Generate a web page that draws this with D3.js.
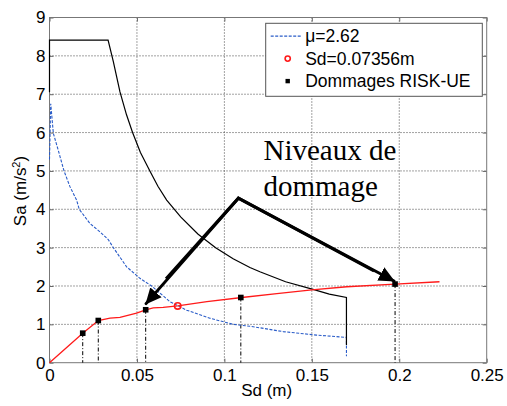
<!DOCTYPE html>
<html>
<head>
<meta charset="utf-8">
<script src="https://cdn.jsdelivr.net/npm/d3@7"></script>
<style>
  body { margin: 0; background: #fff; }
  text { font-family: "Liberation Sans", Arial, sans-serif; }
</style>
</head>
<body>
<div id="chart"></div>
<script>
// capacity spectrum (black), demand mu=2.62 (blue), capacity curve (red)
var spectrumSd = [0, 0, 0.0335, 0.0365, 0.0403, 0.0440, 0.0475, 0.0520, 0.0574, 0.0620, 0.067, 0.075, 0.085, 0.095, 0.105, 0.1146, 0.1203, 0.135, 0.1507, 0.160, 0.1698, 0.1698];
var spectrumSa = [7.05, 8.41, 8.41, 7.85, 7.06, 6.47, 6.0, 5.48, 5.0, 4.60, 4.24, 3.80, 3.35, 3.00, 2.71, 2.48, 2.37, 2.11, 1.91, 1.79, 1.70, 0.46];

var demandSd = [0, 0.0007, 0.0022, 0.005, 0.0083, 0.0117, 0.0155, 0.017, 0.0231, 0.0289, 0.0336, 0.0365, 0.0441, 0.0517, 0.0584, 0.0689, 0.0784, 0.0917, 0.105, 0.1146, 0.1203, 0.1336, 0.1527, 0.1698, 0.1698];
var demandSa = [5.3, 6.75, 5.98, 5.54, 5.0, 4.59, 4.24, 4.0, 3.63, 3.41, 3.21, 3.0, 2.5, 2.2, 2.0, 1.59, 1.37, 1.16, 1.0, 0.95, 0.91, 0.81, 0.72, 0.66, 0.17];

var capacitySd = [0, 0.019, 0.0279, 0.0346, 0.0403, 0.0498, 0.055, 0.0593, 0.065, 0.0733, 0.09, 0.11, 0.13, 0.15, 0.17, 0.1976, 0.223];
var capacitySa = [0, 0.77, 1.10, 1.16, 1.18, 1.29, 1.38, 1.43, 1.44, 1.48, 1.59, 1.70, 1.80, 1.90, 1.98, 2.05, 2.11];

// performance point
var perfSd = [0.0733];
var perfSa = [1.48];

// RISK-UE damage thresholds
var damageSd = [0.019, 0.0279, 0.055, 0.1094, 0.1976];
var damageSa = [0.77, 1.10, 1.38, 1.70, 2.05];

var xTicks = [0, 0.05, 0.1, 0.15, 0.2, 0.25];
var xTickLabels = ["0", "0.05", "0.1", "0.15", "0.2", "0.25"];
var yTicks = [0, 1, 2, 3, 4, 5, 6, 7, 8, 9];
var yTickLabels = ["0", "1", "2", "3", "4", "5", "6", "7", "8", "9"];

var legendLabels = ["\u03bc=2.62", "Sd=0.07356m", "Dommages RISK-UE"];
var noteLines = ["Niveaux de", "dommage"];
// arrow apex and the two damage levels it points to (Sd, Sa)
var arrowFrom = [0.108, 4.29];
var arrowTo = [[0.0552, 1.54], [0.197, 2.13]];

var svgWidth = 507, svgHeight = 406;
var margin = { top: 17.5, right: 20.3, bottom: 43.3, left: 49.5 };
var width = svgWidth - margin.left - margin.right;
var height = svgHeight - margin.top - margin.bottom;

var svg = d3.select('#chart').append('svg')
    .attr('width', svgWidth).attr('height', svgHeight)
    .style('display', 'block');

var defs = svg.append('defs');
defs.append('marker')
    .attr('id', 'head')
    .attr('markerUnits', 'userSpaceOnUse')
    .attr('viewBox', '0 -8 16 16')
    .attr('refX', 15).attr('refY', 0)
    .attr('markerWidth', 16).attr('markerHeight', 16)
    .attr('orient', 'auto')
    .append('path')
    .attr('d', 'M0,-7.5L16,0L0,7.5Z')
    .attr('fill', '#000');

var g = svg.append('g')
    .attr('transform', `translate(${margin.left}, ${margin.top})`);

var x = d3.scaleLinear().domain([0, 0.25]).range([0, width]);
var y = d3.scaleLinear().domain([0, 9]).range([height, 0]);

// grid (dotted)
g.selectAll('.gx').data(xTicks.slice(1, -1)).enter().append('line')
    .attr('x1', d => x(d)).attr('x2', d => x(d))
    .attr('y1', 0).attr('y2', height)
    .style('stroke', '#444').style('stroke-width', 1)
    .style('stroke-dasharray', '1,2');
g.selectAll('.gy').data(yTicks.slice(1, -1)).enter().append('line')
    .attr('x1', 0).attr('x2', width)
    .attr('y1', d => y(d)).attr('y2', d => y(d))
    .style('stroke', '#444').style('stroke-width', 1)
    .style('stroke-dasharray', '1,2');

// axes
var xAxis = d3.axisBottom(x).tickValues(xTicks)
    .tickFormat((d, i) => xTickLabels[i]).tickSizeInner(-4).tickSizeOuter(0).tickPadding(6);
var yAxis = d3.axisLeft(y).tickValues(yTicks)
    .tickFormat((d, i) => yTickLabels[i]).tickSizeInner(-4).tickSizeOuter(0).tickPadding(4);
var gx = g.append('g').attr('transform', `translate(0, ${height})`).call(xAxis);
var gy = g.append('g').call(yAxis);
[gx, gy].forEach(a => {
    a.select('.domain').remove();
    a.selectAll('line').style('stroke', '#666');
    a.selectAll('text').style('font-size', '17px').style('fill', '#000');
});
// inward ticks on top and right
g.append('g').call(d3.axisTop(x).tickValues(xTicks).tickFormat('').tickSizeInner(-4).tickSizeOuter(0))
    .call(a => a.select('.domain').remove())
    .selectAll('line').style('stroke', '#666');
g.append('g').attr('transform', `translate(${width}, 0)`)
    .call(d3.axisRight(y).tickValues(yTicks).tickFormat('').tickSizeInner(-4).tickSizeOuter(0))
    .call(a => a.select('.domain').remove())
    .selectAll('line').style('stroke', '#666');

// frame
g.append('rect')
    .attr('width', width).attr('height', height)
    .style('fill', 'none').style('stroke', '#777').style('stroke-width', 1);

// damage drop lines
g.selectAll('.drop').data(damageSd).enter().append('line')
    .attr('x1', d => x(d)).attr('x2', d => x(d))
    .attr('y1', (d, i) => y(damageSa[i])).attr('y2', height)
    .style('stroke', '#000').style('stroke-width', 1)
    .style('stroke-dasharray', '4,2,1,2');

var line = d3.line().x(d => x(d[0])).y(d => y(d[1]));

g.append('path')
    .datum(d3.zip(demandSd, demandSa))
    .attr('d', line)
    .style('fill', 'none').style('stroke', '#2a5cc8')
    .style('stroke-width', 1.1).style('stroke-dasharray', '3,1.5');

g.append('path')
    .datum(d3.zip(spectrumSd, spectrumSa))
    .attr('d', line)
    .style('fill', 'none').style('stroke', '#000').style('stroke-width', 1.2);

g.append('path')
    .datum(d3.zip(capacitySd, capacitySa))
    .attr('d', line)
    .style('fill', 'none').style('stroke', '#ff1a1a').style('stroke-width', 1.3);

g.selectAll('.perf').data(perfSd).enter().append('circle')
    .attr('cx', d => x(d)).attr('cy', (d, i) => y(perfSa[i]))
    .attr('r', 3.2)
    .style('fill', 'none').style('stroke', '#ff1a1a').style('stroke-width', 1.6);

g.selectAll('.dmg').data(damageSd).enter().append('rect')
    .attr('x', d => x(d) - 2.8).attr('y', (d, i) => y(damageSa[i]) - 2.8)
    .attr('width', 5.6).attr('height', 5.6)
    .style('fill', '#000');

// annotation arrows
arrowTo.forEach(t => {
    g.append('line')
        .attr('x1', x(arrowFrom[0])).attr('y1', y(arrowFrom[1]))
        .attr('x2', x(t[0])).attr('y2', y(t[1]))
        .attr('marker-end', 'url(#head)')
        .style('stroke', '#000').style('stroke-width', 3)
        .style('stroke-linecap', 'round');
});
g.append('path')
    .attr('d', `M${x(arrowTo[0][0]) + 20},${y(arrowTo[0][1]) - 25}L${x(arrowFrom[0])},${y(arrowFrom[1])}L${x(arrowTo[1][0]) - 20},${y(arrowTo[1][1]) - 10}`)
    .style('fill', 'none').style('stroke', '#000').style('stroke-width', 3)
    .style('stroke-linejoin', 'miter');

var note = svg.append('text')
    .attr('x', 263.5).attr('y', 160)
    .style('font-family', '"Liberation Serif", "Times New Roman", serif')
    .style('font-size', '29px').style('fill', '#000');
noteLines.forEach((t, i) => {
    note.append('tspan').attr('x', 263.5).attr('y', 160 + i * 36).text(t);
});

// legend
var legend = svg.append('g').attr('transform', 'translate(265.7, 23.3)');
legend.append('rect')
    .attr('width', 216.6).attr('height', 73)
    .style('fill', '#fff').style('stroke', '#555').style('stroke-width', 1);
var rows = legend.selectAll('.row').data(legendLabels).enter().append('g')
    .attr('transform', (d, i) => `translate(0, ${12.8 + i * 22.5})`);
rows.append('text')
    .attr('x', 39.5).attr('y', 0).attr('dy', '0.36em')
    .style('font-size', '17.5px').style('fill', '#000')
    .text(d => d);
legend.append('line')
    .attr('x1', 5).attr('x2', 36).attr('y1', 12.8).attr('y2', 12.8)
    .style('stroke', '#2a5cc8').style('stroke-width', 1.1).style('stroke-dasharray', '3,1.5');
legend.append('circle')
    .attr('cx', 22).attr('cy', 12.8 + 22.5).attr('r', 2.6)
    .style('fill', 'none').style('stroke', '#ff1a1a').style('stroke-width', 1.6);
legend.append('rect')
    .attr('x', 22 - 2.2).attr('y', 12.8 + 45 - 2.2).attr('width', 4.4).attr('height', 4.4)
    .style('fill', '#000');

// axis titles
svg.append('text')
    .attr('transform', 'translate(26, 191) rotate(-90)')
    .attr('text-anchor', 'middle')
    .style('font-size', '17px')
    .html('Sa (m/s<tspan dy="-6" font-size="11px">2</tspan><tspan dy="6">)</tspan>');
svg.append('text')
    .attr('x', 266.7).attr('y', 396)
    .attr('text-anchor', 'middle')
    .style('font-size', '17px')
    .text('Sd (m)');
</script>
</body>
</html>
